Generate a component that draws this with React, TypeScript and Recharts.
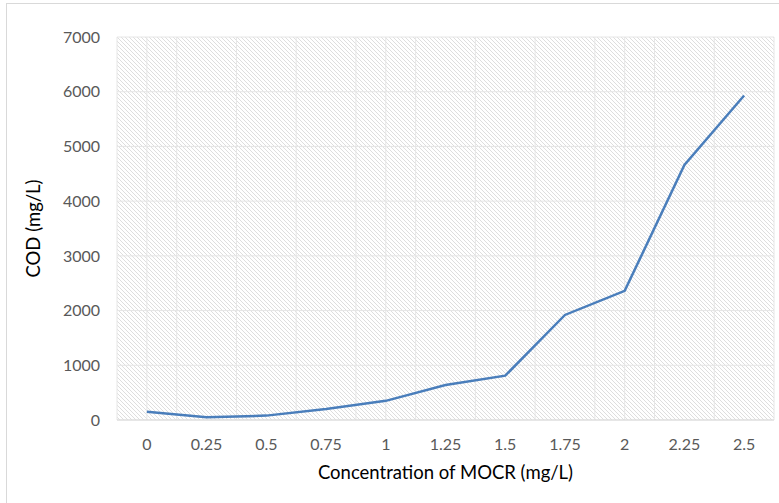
import { LineChart, Line, XAxis, YAxis, CartesianGrid } from 'recharts';

const concentrations = [0, 0.25, 0.5, 0.75, 1, 1.25, 1.5, 1.75, 2, 2.25, 2.5];
const codValues = [150, 50, 80, 200, 350, 640, 810, 1920, 2360, 4660, 5930];
const yTicks = [0, 1000, 2000, 3000, 4000, 5000, 6000, 7000];
const gridTicks = [
  -0.125, 0, 0.125, 0.25, 0.375, 0.5, 0.625, 0.75, 0.875, 1, 1.125, 1.25, 1.375,
  1.5, 1.625, 1.75, 1.875, 2, 2.125, 2.25, 2.375, 2.5, 2.625,
];

const data = concentrations.map((c, i) => ({ conc: c, cod: codValues[i] }));

const font = 'Lato, "Open Sans", sans-serif';

export default function App() {
  return (
    <div
      style={{
        position: 'absolute',
        top: 0,
        left: 0,
        width: 779,
        height: 503,
        background: '#fff',
        fontFamily: font,
        overflow: 'hidden',
      }}
    >
      <div
        style={{
          position: 'absolute',
          top: 3,
          left: 6,
          width: 780,
          height: 510,
          border: '1px solid #d9d9d9',
        }}
      />
      <LineChart
        width={779}
        height={503}
        data={data}
        margin={{ top: 37, right: 5, bottom: 0, left: 0 }}
      >
        <defs>
          <pattern id="hatch" width="4" height="4" patternUnits="userSpaceOnUse">
            <path d="M0,0 L4,4 M-1,3 L1,5 M3,-1 L5,1" stroke="#dedede" strokeWidth={1} />
          </pattern>
        </defs>
        <CartesianGrid
          xAxisId="grid"
          stroke="#e6e6e6"
          fill="url(#hatch)"
          fillOpacity={1}
          horizontal
          vertical
        />
        <XAxis
          xAxisId="grid"
          type="number"
          dataKey="conc"
          domain={[-0.125, 2.625]}
          ticks={gridTicks}
          height={0}
          hide
        />
        <XAxis
          xAxisId="main"
          type="number"
          dataKey="conc"
          domain={[-0.125, 2.625]}
          ticks={concentrations}
          interval={0}
          height={83}
          tickLine={false}
          tickSize={0}
          tickMargin={19}
          axisLine={{ stroke: '#d9d9d9' }}
          tick={{ fill: '#595959', fontSize: 16, fontFamily: font }}
          label={{
            value: 'Concentration of MOCR (mg/L)',
            position: 'insideBottom',
            offset: 24,
            fill: '#000',
            fontSize: 18.5,
            fontFamily: font,
          }}
        />
        <YAxis
          width={117}
          domain={[0, 7000]}
          ticks={yTicks}
          interval={0}
          axisLine={false}
          tickLine={false}
          tickSize={0}
          tickMargin={17}
          tick={{ fill: '#595959', fontSize: 16, fontFamily: font }}
          label={{
            value: 'COD (mg/L)',
            angle: -90,
            position: 'insideLeft',
            offset: 33,
            style: { textAnchor: 'middle' },
            fill: '#000',
            fontSize: 18.5,
            fontFamily: font,
          }}
        />
        <Line
          xAxisId="main"
          type="linear"
          dataKey="cod"
          stroke="#4a7ebb"
          strokeWidth={2.5}
          dot={false}
          isAnimationActive={false}
        />
      </LineChart>
    </div>
  );
}
